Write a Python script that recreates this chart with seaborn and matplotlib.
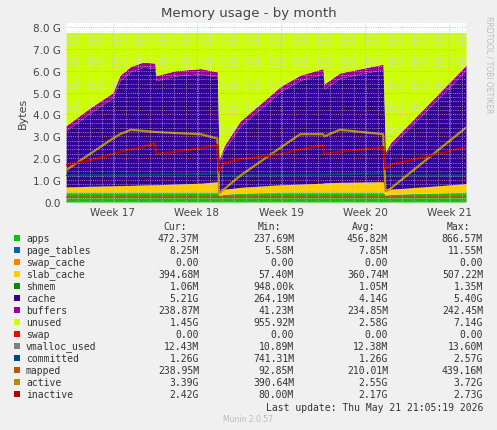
import numpy as np
import pandas as pd
import seaborn as sns
import matplotlib.pyplot as plt
from matplotlib.ticker import MultipleLocator, FuncFormatter

# time in days since start of graph
days = [0, 2, 3.9, 4.5, 5.4, 6.4, 7.4, 7.5, 9.1, 11.2, 12.6, 12.75, 13.2, 14.5,
        17.9, 19.5, 21.4, 21.5, 22.8, 26.4, 26.6, 27.0, 33.3]

# stacked series (GB)
apps = [0.45, 0.45, 0.45, 0.45, 0.45, 0.45, 0.45, 0.45, 0.45, 0.45, 0.45, 0.30, 0.35, 0.40,
        0.45, 0.45, 0.45, 0.45, 0.45, 0.45, 0.30, 0.35, 0.45]
page_tables = [0.008] * 23
swap_cache = [0.0] * 23
slab_cache = [0.23, 0.26, 0.28, 0.29, 0.30, 0.32, 0.33, 0.33, 0.36, 0.40, 0.47, 0.20, 0.22, 0.26,
              0.33, 0.36, 0.40, 0.42, 0.44, 0.47, 0.20, 0.22, 0.38]
shmem = [0.001] * 23
buffers = [0.24, 0.24, 0.24, 0.24, 0.24, 0.24, 0.24, 0.24, 0.24, 0.24, 0.24, 0.10, 0.20, 0.24,
           0.24, 0.24, 0.24, 0.24, 0.24, 0.24, 0.10, 0.20, 0.24]
used_top = [3.49, 4.3, 5.0, 5.8, 6.2, 6.39, 6.35, 5.78, 6.0, 6.1, 5.95, 1.97, 2.6, 3.7,
            5.3, 5.8, 6.1, 5.4, 5.9, 6.3, 2.3, 2.7, 6.25]
total = 7.75

# line series (GB)
swap = [0.0] * 23
vmalloc_used = [0.012] * 23
committed = [1.22, 1.22, 1.23, 1.23, 1.24, 1.24, 1.25, 1.25, 1.26, 1.28, 1.30, 1.22, 1.22, 1.22,
             1.23, 1.24, 1.25, 1.25, 1.27, 1.30, 1.22, 1.22, 1.22]
mapped = [0.24] * 23
active = [1.45, 2.2, 2.9, 3.1, 3.3, 3.25, 3.2, 3.2, 3.15, 3.1, 2.9, 0.4, 0.6, 1.2,
          2.5, 3.1, 3.1, 3.0, 3.3, 3.1, 0.5, 0.6, 3.4]
inactive = [1.7, 1.9, 2.2, 2.3, 2.4, 2.5, 2.7, 2.2, 2.3, 2.45, 2.6, 1.4, 1.8, 1.95,
            2.2, 2.4, 2.6, 2.2, 2.3, 2.5, 1.5, 1.7, 2.5]

week_ticks = [3.9, 10.9, 17.9, 24.9, 31.9]
week_labels = ['Week 17', 'Week 18', 'Week 19', 'Week 20', 'Week 21']

names = ['apps', 'page_tables', 'swap_cache', 'slab_cache', 'shmem', 'cache', 'buffers',
         'unused', 'swap', 'vmalloc_used', 'committed', 'mapped', 'active', 'inactive']
colors = ['#00CC00', '#0066B3', '#FF8000', '#FFCC00', '#008F00', '#330099', '#990099',
          '#CCFF00', '#FF0000', '#808080', '#00487D', '#B35A00', '#B38F00', '#B30000']
cur = ['472.37M', '8.25M', '0.00', '394.68M', '1.06M', '5.21G', '238.87M', '1.45G', '0.00',
       '12.43M', '1.26G', '238.95M', '3.39G', '2.42G']
mins = ['237.69M', '5.58M', '0.00', '57.40M', '948.00k', '264.19M', '41.23M', '955.92M', '0.00',
        '10.89M', '741.31M', '92.85M', '390.64M', '80.00M']
avgs = ['456.82M', '7.85M', '0.00', '360.74M', '1.05M', '4.14G', '234.85M', '2.58G', '0.00',
        '12.38M', '1.26G', '210.01M', '2.55G', '2.17G']
maxs = ['866.57M', '11.55M', '0.00', '507.22M', '1.35M', '5.40G', '242.45M', '7.14G', '0.00',
        '13.60M', '2.57G', '439.16M', '3.72G', '2.73G']

t = np.array(days)
lower = np.array(apps) + np.array(page_tables) + np.array(swap_cache) + np.array(slab_cache) + np.array(shmem)
cache = np.array(used_top) - np.array(buffers) - lower
unused = total - np.array(used_top)

sns.set_style('white')
plt.rcParams['font.family'] = ['DejaVu Sans']
fig = plt.figure(figsize=(4.97, 4.31), dpi=100, facecolor='#F0F0F0')
ax = fig.add_axes([66 / 497, 1 - 203 / 431, 400 / 497, 179 / 431])
ax.set_facecolor('white')

ax.stackplot(t, apps, page_tables, swap_cache, slab_cache, shmem, cache, buffers, unused,
             colors=colors[:8], linewidth=0)

lines = pd.DataFrame({'day': t, 'swap': swap, 'vmalloc_used': vmalloc_used, 'committed': committed,
                      'mapped': mapped, 'active': active, 'inactive': inactive})
long = lines.melt(id_vars='day', var_name='series', value_name='gb')
sns.lineplot(data=long, x='day', y='gb', hue='series', palette=dict(zip(names[8:], colors[8:])),
             ax=ax, legend=False, linewidth=1.6)

ax.set_xlim(0, 33.3)
ax.set_ylim(0, 8.18)
ax.yaxis.set_major_locator(MultipleLocator(1))
ax.yaxis.set_minor_locator(MultipleLocator(0.2))
ax.xaxis.set_minor_locator(MultipleLocator(1))
ax.set_xticks(week_ticks)
ax.set_xticklabels(week_labels)
ax.yaxis.set_major_formatter(FuncFormatter(lambda v, p: '0.0' if v == 0 else f'{v:.1f} G'))
ax.grid(True, which='major', color='#FF9999', linestyle=':', linewidth=0.6)
ax.grid(True, which='minor', color='#DDDDDD', linestyle=':', linewidth=0.5)
ax.set_axisbelow(False)
for s in ax.spines.values():
    s.set_visible(False)
ax.tick_params(labelsize=7.5, colors='#444444', length=0)
ax.set_xlabel('')
ax.set_ylabel('Bytes', fontsize=8, color='#444444')

fig.text(0.5, 1 - 14 / 431, 'Memory usage - by month', ha='center', va='center', fontsize=9.5, color='#444444')
fig.text(489 / 497, 1 - 65 / 431, 'RRDTOOL / TOBI OETIKER', rotation=270, ha='center', va='center',
         fontsize=5.5, color='#BBBBBB')

mono = 'DejaVu Sans Mono'
fs = 7
y0 = 227
for hdr, xr in zip(['Cur:', 'Min:', 'Avg:', 'Max:'], [187, 281, 375, 470]):
    fig.text(xr / 497, 1 - y0 / 431, hdr, ha='right', va='center', family=mono, fontsize=fs, color='#333333')
for i, n in enumerate(names):
    y = 1 - (y0 + 12 * (i + 1)) / 431
    fig.patches.append(plt.Rectangle((14 / 497, y - 2.5 / 431), 6 / 497, 6 / 431, transform=fig.transFigure,
                                     facecolor=colors[i], edgecolor='none'))
    fig.text(26 / 497, y, n, ha='left', va='center', family=mono, fontsize=fs, color='#333333')
    for v, xr in zip([cur[i], mins[i], avgs[i], maxs[i]], [199, 294, 388, 483]):
        fig.text(xr / 497, y, v, ha='right', va='center', family=mono, fontsize=fs, color='#333333')
fig.text(483 / 497, 1 - 408 / 431, 'Last update: Thu May 21 21:05:19 2026', ha='right', va='center',
         family=mono, fontsize=fs, color='#333333')
fig.text(248 / 497, 1 - 420 / 431, 'Munin 2.0.57', ha='center', va='center', fontsize=5.5, color='#BBBBBB')

fig.savefig('out.png', dpi=100, facecolor=fig.get_facecolor())
